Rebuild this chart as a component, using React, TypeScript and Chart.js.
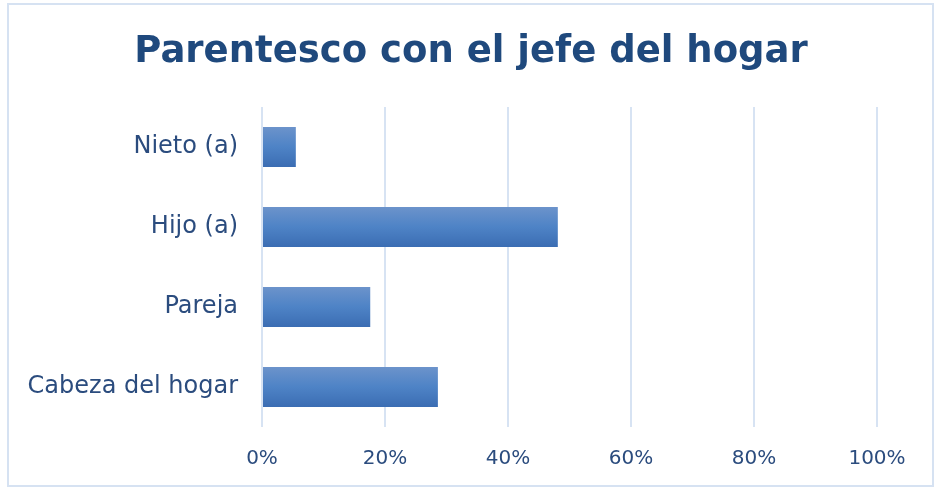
import { useEffect, useRef } from "react";
import { Chart, registerables } from "chart.js";

Chart.register(...registerables);

const categories = ["Nieto (a)", "Hijo (a)", "Pareja", "Cabeza del hogar"];
const values = [5.5, 48.1, 17.6, 28.6];
const tickValues = [0, 20, 40, 60, 80, 100];
const titleText = "Parentesco con el jefe del hogar";

const framePlugin = {
  id: "frame",
  beforeDraw(chart: any) {
    const ctx = chart.ctx;
    ctx.save();
    ctx.fillStyle = "#ffffff";
    ctx.fillRect(0, 0, chart.width, chart.height);
    ctx.strokeStyle = "#D6E2F2";
    ctx.lineWidth = 2;
    ctx.strokeRect(8, 4, 925, 482);
    ctx.restore();
  },
  afterDraw(chart: any) {
    const ctx = chart.ctx;
    ctx.save();
    ctx.fillStyle = "#1F497D";
    ctx.font = "bold 37px 'DejaVu Sans'";
    ctx.textAlign = "center";
    ctx.textBaseline = "middle";
    ctx.fillText(titleText, chart.width / 2 + 2, 52);
    ctx.restore();
  },
};

export default function App() {
  const ref = useRef<HTMLCanvasElement | null>(null);
  useEffect(() => {
    if (!ref.current) return;
    const chart = new Chart(ref.current, {
      type: "bar",
      data: {
        labels: categories,
        datasets: [
          {
            data: values,
            categoryPercentage: 0.5,
            barPercentage: 1,
            backgroundColor: (c: any) => {
              const ch = c.chart;
              const ys = ch.scales && ch.scales.y;
              if (!ys || c.dataIndex === undefined) return "#4E83C6";
              const py = ys.getPixelForValue(c.dataIndex);
              if (!Number.isFinite(py)) return "#4E83C6";
              const g = ch.ctx.createLinearGradient(0, py - 20, 0, py + 20);
              g.addColorStop(0, "#6C93CB");
              g.addColorStop(0.5, "#4E83C6");
              g.addColorStop(1, "#3B6DB3");
              return g;
            },
            borderWidth: 0,
          },
        ],
      },
      options: {
        indexAxis: "y",
        animation: false,
        responsive: false,
        maintainAspectRatio: false,
        layout: { padding: { top: 107, left: 0, right: 61, bottom: 0 } },
        plugins: {
          legend: { display: false },
          tooltip: { enabled: false },
          title: { display: false },
        },
        scales: {
          x: {
            min: 0,
            max: 100,
            afterBuildTicks: (s: any) => {
              s.ticks = tickValues.map((v) => ({ value: v }));
            },
            afterFit: (s: any) => {
              s.height = 61;
            },
            grid: { color: "#D7E3F3", lineWidth: 2, drawTicks: false },
            border: { display: false },
            ticks: {
              color: "#2B4C7E",
              font: { family: "DejaVu Sans", size: 20 },
              padding: 20,
              callback: (v: any) => v + "%",
            },
          },
          y: {
            afterFit: (s: any) => {
              s.width = 262;
            },
            grid: { display: false, drawTicks: false },
            border: { display: false },
            ticks: {
              color: "#2B4C7E",
              font: { family: "DejaVu Sans", size: 24 },
              padding: 24,
            },
          },
        },
      },
      plugins: [framePlugin],
    } as any);
    return () => chart.destroy();
  }, []);
  return (
    <div style={{ position: "absolute", left: 0, top: 0, width: 938, height: 488 }}>
      <canvas ref={ref} width={938} height={488} style={{ display: "block" }} />
    </div>
  );
}
